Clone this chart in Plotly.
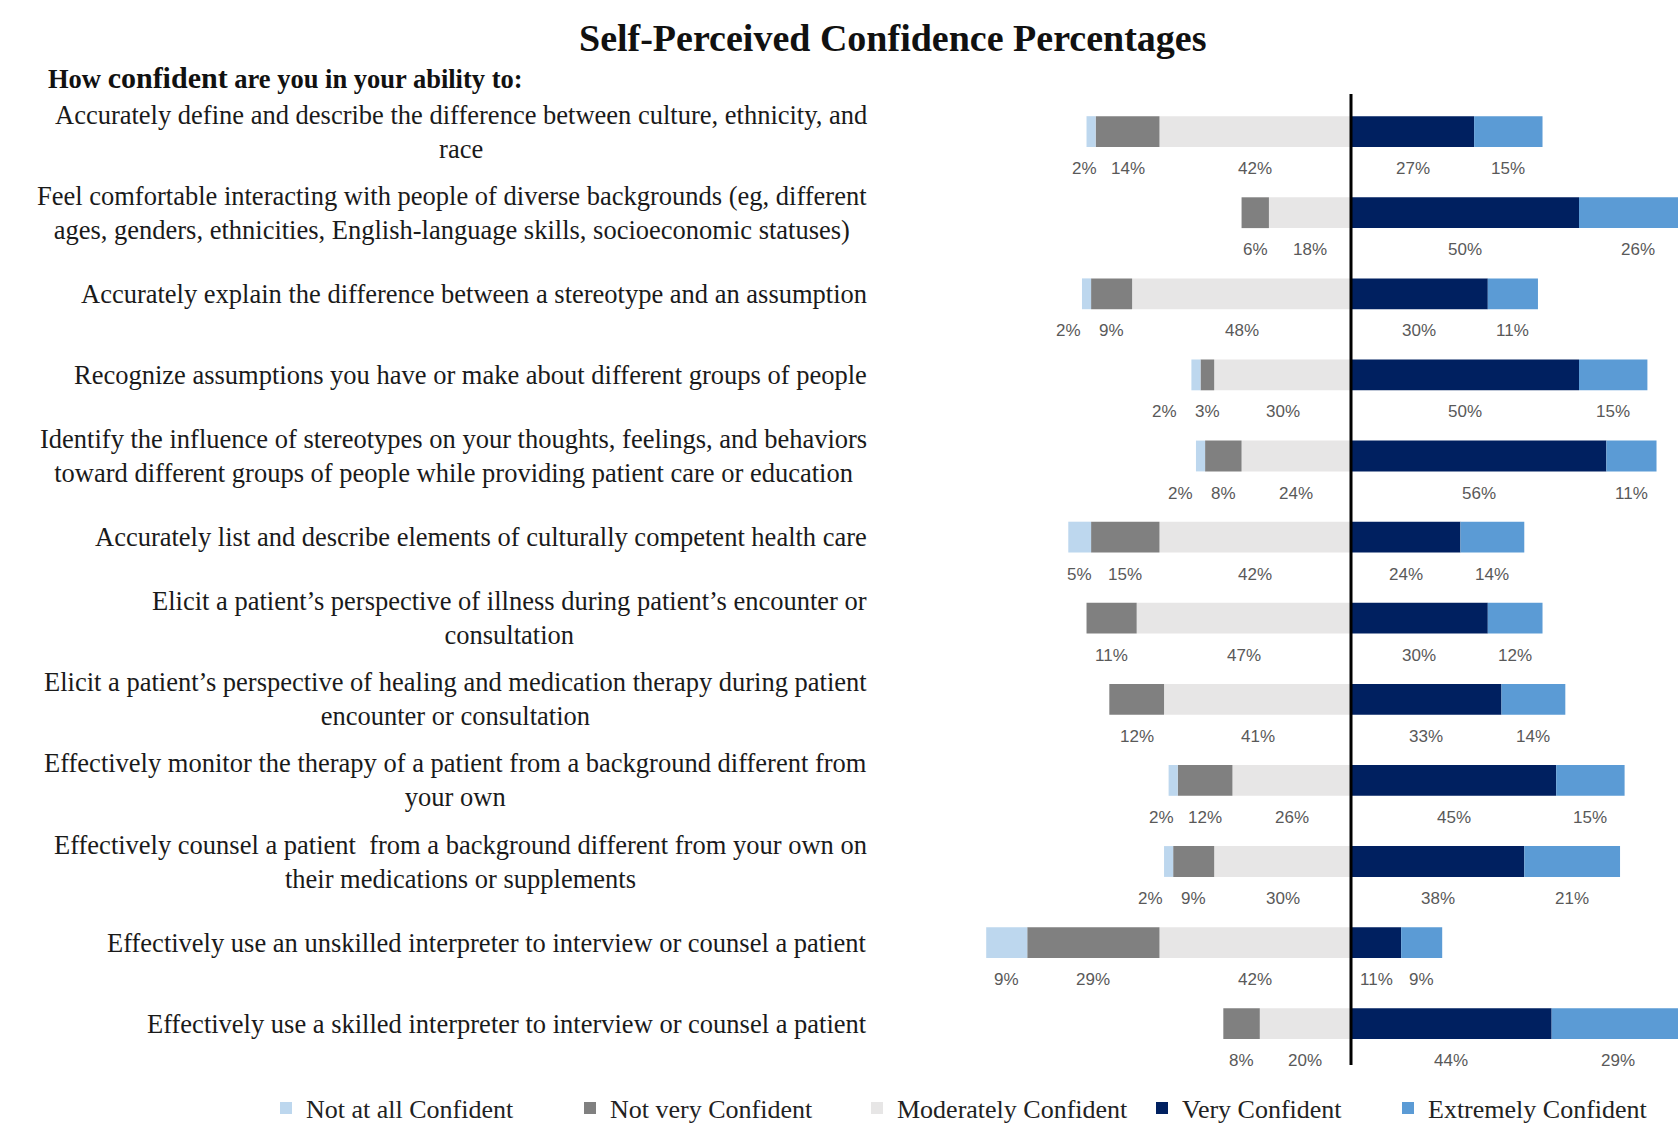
import plotly.graph_objects as go

# ---------------- data ----------------
questions = [
    "Accurately define and describe the difference between culture, ethnicity, and<br>race",
    "Feel comfortable interacting with people of diverse backgrounds (eg, different<br>ages, genders, ethnicities, English-language skills, socioeconomic statuses)",
    "Accurately explain the difference between a stereotype and an assumption",
    "Recognize assumptions you have or make about different groups of people",
    "Identify the influence of stereotypes on your thoughts, feelings, and behaviors<br>toward different groups of people while providing patient care or education",
    "Accurately list and describe elements of culturally competent health care",
    "Elicit a patient\u2019s perspective of illness during patient\u2019s encounter or<br>consultation",
    "Elicit a patient\u2019s perspective of healing and medication therapy during patient<br>encounter or consultation",
    "Effectively monitor the therapy of a patient from a background different from<br>your own",
    "Effectively counsel a patient  from a background different from your own on<br>their medications or supplements",
    "Effectively use an unskilled interpreter to interview or counsel a patient",
    "Effectively use a skilled interpreter to interview or counsel a patient",
]
not_at_all = [2, 0, 2, 2, 2, 5, 0, 0, 2, 2, 9, 0]
not_very = [14, 6, 9, 3, 8, 15, 11, 12, 12, 9, 29, 8]
moderately = [42, 18, 48, 30, 24, 42, 47, 41, 26, 30, 42, 20]
very = [27, 50, 30, 50, 56, 24, 30, 33, 45, 38, 11, 44]
extremely = [15, 26, 11, 15, 11, 14, 12, 14, 15, 21, 9, 29]

series_names = ["Not at all Confident", "Not very Confident", "Moderately Confident",
                "Very Confident", "Extremely Confident"]
series_colors = ["#BDD7EE", "#808080", "#E7E6E6", "#002060", "#5B9BD5"]

title_text = "Self-Perceived Confidence Percentages"
subheader = "How <span style='font-size:30px'>confident</span> are you in your ability to:"

# ---------------- layout geometry ----------------
W, H = 1678, 1126
ML, MR, MT, MB = 900, 0, 94, 61
PW, PH = W - ML - MR, H - MT - MB
ZERO_PX = 1351.0       # pixel position of the 0 line
PX_PER_PCT = 4.56
ROW0_PX = 131.6
ROW_PITCH = 81.1
LEGEND_X_PX = [266, 570, 857, 1142, 1388]   # left edge of each legend entry
LEGEND_Y_PX = 1108

x_range = [(ML - ZERO_PX) / PX_PER_PCT, (W - MR - ZERO_PX) / PX_PER_PCT]
y_range = [(MT + PH - ROW0_PX) / ROW_PITCH, (MT - ROW0_PX) / ROW_PITCH]


def paper_x(px):
    return (px - ML) / PW


def paper_y(py):
    return (MT + PH - py) / PH


rows = list(range(len(questions)))
serif = "Liberation Serif, Times New Roman, serif"
sans = "Liberation Sans, Arial, sans-serif"
legend_ids = ["legend", "legend2", "legend3", "legend4", "legend5"]

fig = go.Figure()

# left side (negative) stacks outward from zero: Moderately, Not very, Not at all
left_order = [(2, moderately), (1, not_very), (0, not_at_all)]
right_order = [(3, very), (4, extremely)]
for idx, vals in left_order:
    fig.add_trace(go.Bar(
        y=rows, x=[-v for v in vals], orientation="h", name=series_names[idx],
        marker=dict(color=series_colors[idx], line=dict(width=0)),
        width=0.38, legend=legend_ids[idx], hoverinfo="skip"))
for idx, vals in right_order:
    fig.add_trace(go.Bar(
        y=rows, x=vals, orientation="h", name=series_names[idx],
        marker=dict(color=series_colors[idx], line=dict(width=0)),
        width=0.38, legend=legend_ids[idx], hoverinfo="skip"))

annotations = []
# data labels below bars
LABEL_DY = -37
MIN_SEP_PCT = 9.5  # minimum separation of label centres (in % units)
for r in rows:
    c_mod = -(moderately[r] / 2)
    c_nv = -(moderately[r] + not_very[r] / 2)
    c_na = -(moderately[r] + not_very[r] + not_at_all[r] / 2)
    if not_at_all[r] > 0 and (c_nv - c_na) < MIN_SEP_PCT:
        c_na = c_nv - MIN_SEP_PCT
    items = [(c_mod, moderately[r]), (c_nv, not_very[r]), (c_na, not_at_all[r]),
             (very[r] / 2, very[r]), (very[r] + extremely[r] / 2, extremely[r])]
    for cx, v in items:
        if v <= 0:
            continue
        annotations.append(dict(
            x=cx, y=r, xref="x", yref="y", text=f"{v}%", showarrow=False,
            yshift=LABEL_DY, xanchor="center", yanchor="middle",
            font=dict(family=sans, size=17, color="#595959")))

# question labels
for r, q in enumerate(questions):
    annotations.append(dict(
        x=paper_x(869), y=r, xref="paper", yref="y", text=q, showarrow=False,
        xanchor="right", yanchor="middle", align="center",
        font=dict(family=serif, size=26.5, color="#1a1a1a")))

# title and subheader
annotations.append(dict(
    x=paper_x(893), y=paper_y(38), xref="paper", yref="paper",
    text=f"<b>{title_text}</b>", showarrow=False, xanchor="center", yanchor="middle",
    font=dict(family=serif, size=38, color="#111111")))
annotations.append(dict(
    x=paper_x(46), y=paper_y(78), xref="paper", yref="paper",
    text=f"<b>{subheader}</b>", showarrow=False, xanchor="left", yanchor="middle",
    font=dict(family=serif, size=26.5, color="#111111")))

legend_layouts = {}
for i, lid in enumerate(legend_ids):
    legend_layouts[lid] = dict(
        orientation="h", xref="container", yref="container",
        x=LEGEND_X_PX[i] / W, y=1 - LEGEND_Y_PX / H, xanchor="left", yanchor="middle",
        font=dict(family=serif, size=26, color="#222222"),
        itemwidth=30, bgcolor="rgba(0,0,0,0)", borderwidth=0)

fig.update_layout(
    width=W, height=H,
    margin=dict(l=ML, r=MR, t=MT, b=MB, pad=0, autoexpand=False),
    barmode="relative",
    plot_bgcolor="white", paper_bgcolor="white",
    xaxis=dict(range=x_range, showgrid=False, zeroline=False, showticklabels=False,
               showline=False, ticks="", fixedrange=True),
    yaxis=dict(range=y_range, showgrid=False, zeroline=False, showticklabels=False,
               showline=False, ticks="", fixedrange=True),
    annotations=annotations,
    shapes=[dict(type="line", xref="x", yref="paper", x0=0, x1=0, y0=0, y1=1,
                 line=dict(color="black", width=3), layer="above")],
    showlegend=True,
    **legend_layouts,
)

fig.write_html("out.html", config={"displayModeBar": False},
               post_script="document.body.style.margin='0';document.body.style.overflow='hidden';")
